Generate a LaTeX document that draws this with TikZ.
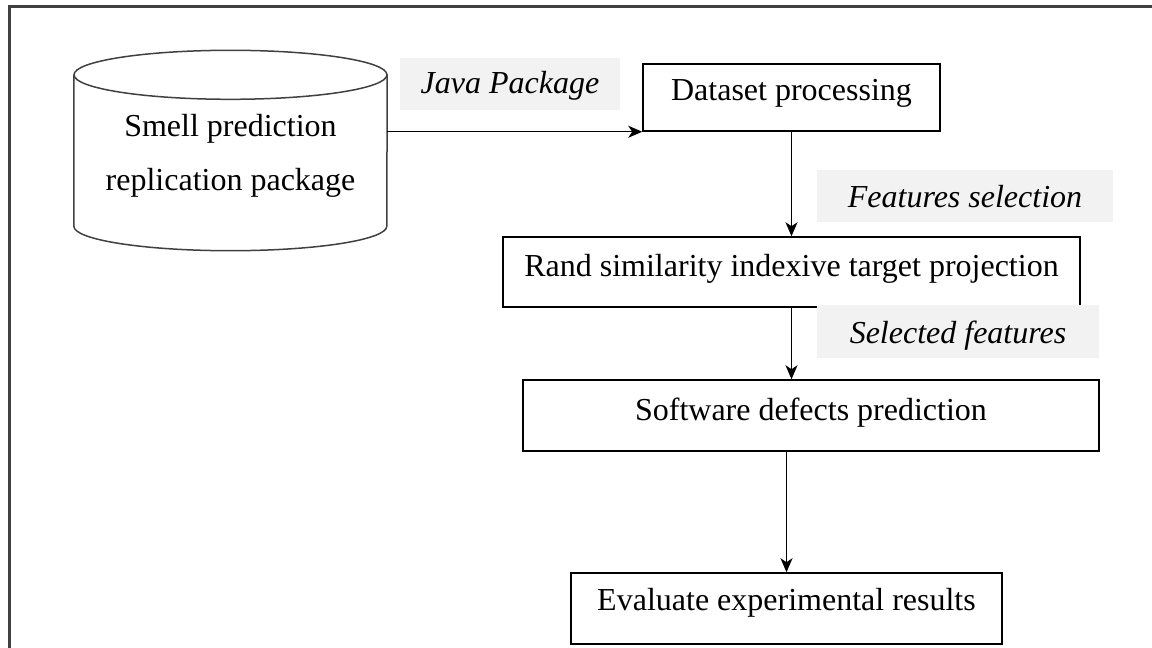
\documentclass[tikz,border=0pt]{standalone}
\usepackage{fontspec}
\setmainfont{Liberation Serif}
\usetikzlibrary{arrows.meta}
\definecolor{labelgrey}{HTML}{F2F2F2}
\definecolor{framegrey}{HTML}{404040}
\tikzset{
  procbox/.style={draw=black, line width=1.5pt, inner xsep=0pt, inner ysep=0pt,
    font=\fontsize{32}{38}\selectfont},
  lbl/.style={fill=labelgrey, inner xsep=0pt, inner ysep=0pt,
    font=\fontsize{32}{38}\selectfont\itshape},
  cylline/.style={draw=framegrey, line width=1.5pt},
  arr/.style={line width=1.3pt, -{Stealth[length=14pt,width=12pt,inset=4pt]}},
}
\begin{document}
\begin{tikzpicture}[x=1pt,y=-1pt]
\useasboundingbox (0,0) rectangle (1152,648);
% outer frame (only top and left edges are visible)
\draw[line width=3pt, framegrey] (9,660) -- (9,6.5) -- (1165,6.5);

% cylinder
\node[inner sep=0pt, minimum width=313pt, minimum height=151pt] (cyl) at (230.5,150.5) {};
\draw[cylline] (cyl.north) ellipse[x radius=156.5pt, y radius=24.5pt];
\draw[cylline] (cyl.north west) -- (cyl.south west)
  arc[start angle=180, end angle=360, x radius=156.5pt, y radius=24.5pt] -- (cyl.north east);
\node[align=center, inner sep=0pt, font=\fontsize{32}{54}\selectfont] (cyltext) at (230.5,156)
  {Smell prediction\\replication package};

% process boxes
\node[procbox, minimum width=297pt, text height=36pt, text depth=31pt] (dsp) at (791.5,97.5) {Dataset processing};
\node[procbox, minimum width=577pt, text height=39pt, text depth=31pt] (rand) at (791.5,272) {Rand similarity indexive target projection};
\node[procbox, minimum width=576pt, text height=40.5pt, text depth=30.5pt] (soft) at (811,415.5) {Software defects prediction};
\node[procbox, minimum width=431pt, text height=37pt, text depth=34pt] (eval) at (786.5,608.5) {Evaluate experimental results};

% grey labels
\node[lbl, minimum width=220pt, text height=35pt, text depth=17pt] (java) at (510,84) {Java Package};
\node[lbl, minimum width=296pt, text height=37pt, text depth=15pt] (feat) at (965,196) {Features selection};
\node[lbl, minimum width=282pt, text height=38pt, text depth=15pt] (sel) at (958,331.5) {Selected features};

% connectors
\draw[arr] (cyl.east |- dsp.south west) -- (dsp.south west);
\draw[arr] (dsp.south) -- (rand.north);
\draw[arr] (rand.south) -- (rand.south |- soft.north);
\draw[arr] (soft.south -| eval.north) -- (eval.north);
\end{tikzpicture}
\end{document}
